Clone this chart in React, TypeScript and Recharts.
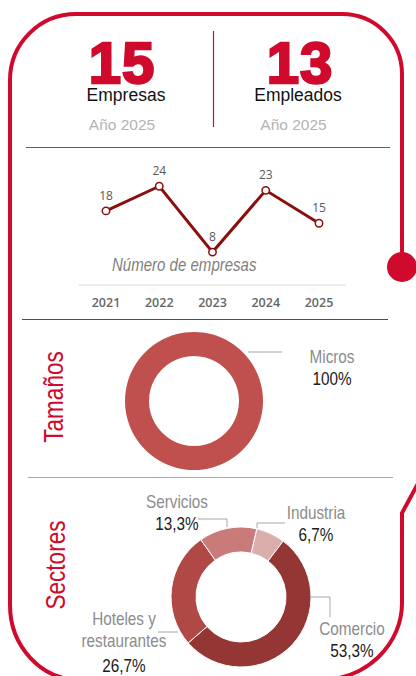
import { LineChart, Line, XAxis, YAxis, LabelList, PieChart, Pie, Cell } from 'recharts';

const years = ['2021', '2022', '2023', '2024', '2025'];
const empresas = [18, 24, 8, 23, 15];

const tamanoNames = ['Micros'];
const tamanoValues = [15];

const sectorNames = ['Industria', 'Comercio', 'Hoteles y\nrestaurantes', 'Servicios'];
const sectorValues = [1, 8, 4, 2];
const sectorColors = ['#dbaeae', '#943634', '#b04845', '#c97b79'];

const RED = '#cf0a2c';
const NARROW = 'Liberation Sans, Arial, sans-serif';

const lineData = years.map((y, i) => ({ year: y, value: empresas[i] }));
const tamanoData = tamanoNames.map((n, i) => ({ name: n, value: tamanoValues[i] }));
const sectorData = sectorNames.map((n, i) => ({ name: n, value: sectorValues[i] }));

// label placement relative to the donut centre (leader line + text rows)
const tamanoLabelLayout = [
  { line: [[54, -49], [88, -49]], x: 138, nameY: [-44], valueY: -22 },
];
const sectorLabelLayout = [
  { line: [[16, -69], [16, -74], [44, -74]], x: 75, nameY: [-84], valueY: -62 },
  { line: [[69, 0], [89, 0], [89, 20]], x: 111, nameY: [32], valueY: 54 },
  { line: [[-63, 35], [-83, 35]], x: -117, nameY: [22, 44], valueY: 69 },
  { line: [[-14, -70], [-14, -78], [-43, -78]], x: -64, nameY: [-95], valueY: -73 },
];

const fmtPct = (p: number) => (p >= 0.9995 ? '100%' : (p * 100).toFixed(1).replace('.', ',') + '%');

function NarrowText({ x, y, fill, children, size = 18 }: any) {
  return (
    <text
      transform={`translate(${x} ${y}) scale(0.85 1)`}
      textAnchor="middle"
      dominantBaseline="central"
      fill={fill}
      fontSize={size}
      fontFamily={NARROW}
    >
      {children}
    </text>
  );
}

function makeLabel(layout: any[]) {
  return (props: any) => {
    const { cx, cy, index, percent, name } = props;
    const l = layout[index];
    const pts = l.line.map((p: number[]) => `${cx + p[0]},${cy + p[1]}`).join(' ');
    const rows = String(name).split('\n');
    return (
      <g>
        <polyline points={pts} fill="none" stroke="#a6a6a6" strokeWidth={1} />
        {rows.map((r, k) => (
          <NarrowText key={k} x={cx + l.x} y={cy + l.nameY[k]} fill="#8c8c8c">
            {r}
          </NarrowText>
        ))}
        <NarrowText x={cx + l.x} y={cy + l.valueY} fill="#1a1a1a">
          {fmtPct(percent)}
        </NarrowText>
      </g>
    );
  };
}

// header block: big number, caption and year, centred on x
function Kpi({ x, value, caption, captionX, yearX }: any) {
  const base = { position: 'absolute' as const, width: 200, textAlign: 'center' as const, fontFamily: 'Liberation Sans, Arial, sans-serif', whiteSpace: 'nowrap' as const };
  return (
    <>
      <div style={{ ...base, left: x - 100, top: 42, height: 42, lineHeight: '42px', fontSize: 58, fontWeight: 700, color: RED, WebkitTextStroke: `2.5px ${RED}`, letterSpacing: 1 }}>
        {value}
      </div>
      <div style={{ ...base, left: captionX - 100, top: 86.5, height: 17, lineHeight: '17px', fontSize: 17.5, color: '#111' }}>
        {caption}
      </div>
      <div style={{ ...base, left: yearX - 100, top: 116.7, height: 16, lineHeight: '16px', fontSize: 15.5, color: '#b3b3b3' }}>
        Año 2025
      </div>
    </>
  );
}

function Frame() {
  return (
    <svg width={416} height={676} style={{ position: 'absolute', left: 0, top: 0 }}>
      <path
        d="M 402 256 L 402 74 A 60 60 0 0 0 342 14 L 76 14 A 66 66 0 0 0 10 80 L 10 605 A 70 75 0 0 0 80 680 L 320 680 A 82 77 0 0 0 402 603 L 402 513 L 422 476"
        fill="none"
        stroke={RED}
        strokeWidth={4}
      />
      <circle cx={402} cy={267} r={15} fill={RED} />

      <line x1={213.5} y1={31} x2={213.5} y2={127} stroke={RED} strokeWidth={1.2} />

      <line x1={26} y1={147.5} x2={390} y2={147.5} stroke="#d5263a" strokeWidth={1} />
      <line x1={22} y1={319.5} x2={388} y2={319.5} stroke="#c0162e" strokeWidth={1} />
      <line x1={28} y1={477.5} x2={393} y2={477.5} stroke="#9bbb59" strokeWidth={1.2} />

      <text
        transform="translate(112 271) scale(0.85 1)"
        fontSize={17.7}
        fontStyle="italic"
        fill="#7f7f7f"
        fontFamily={NARROW}
      >
        Número de empresas
      </text>

      <text
        transform="translate(63 397) rotate(-90) scale(0.82 1)"
        textAnchor="middle"
        fontSize={27.5}
        fill={RED}
        fontFamily={NARROW}
      >
        Tamaños
      </text>
      <text
        transform="translate(65 565) rotate(-90) scale(0.82 1)"
        textAnchor="middle"
        fontSize={27.5}
        fill={RED}
        fontFamily={NARROW}
      >
        Sectores
      </text>
    </svg>
  );
}

export default function App() {
  return (
    <div
      style={{
        position: 'absolute',
        left: 0,
        top: 0,
        width: 416,
        height: 676,
        background: '#fff',
        overflow: 'hidden',
      }}
    >
      <Frame />
      <Kpi x={122} value="15" caption="Empresas" captionX={126} yearX={122} />
      <Kpi x={300} value="13" caption="Empleados" captionX={298} yearX={293.5} />

      <div style={{ position: 'absolute', left: 0, top: 150 }}>
        <LineChart width={416} height={170} data={lineData} margin={{ top: 28, right: 70, bottom: 0, left: 79 }}>
          <XAxis
            dataKey="year"
            height={35}
            padding={{ left: 27, right: 27 }}
            axisLine={{ stroke: '#d9d9d9' }}
            tickLine={false}
            tickMargin={7}
            tick={{ fill: '#666', fontSize: 12.5, fontFamily: 'Open Sans', fontWeight: 600 }}
          />
          <YAxis hide domain={[0, 26]} />
          <Line
            type="linear"
            dataKey="value"
            stroke="#8b0e0e"
            strokeWidth={3}
            dot={{ r: 3.7, fill: '#fff', stroke: '#8b0e0e', strokeWidth: 1.5 }}
            isAnimationActive={false}
          >
            <LabelList
              dataKey="value"
              position="top"
              offset={11}
              fill="#595959"
              fontSize={12}
              fontFamily="Open Sans"
            />
          </Line>
        </LineChart>
      </div>

      <div style={{ position: 'absolute', left: 0, top: 322 }}>
        <PieChart width={416} height={155}>
          <Pie
            data={tamanoData}
            dataKey="value"
            nameKey="name"
            cx={189}
            cy={74}
            innerRadius={45}
            outerRadius={69}
            startAngle={90}
            endAngle={-270}
            stroke="none"
            labelLine={false}
            label={makeLabel(tamanoLabelLayout)}
            isAnimationActive={false}
          >
            <Cell fill="#c0504d" />
          </Pie>
        </PieChart>
      </div>

      <div style={{ position: 'absolute', left: 0, top: 480 }}>
        <PieChart width={416} height={196}>
          <Pie
            data={sectorData}
            dataKey="value"
            nameKey="name"
            cx={236}
            cy={112}
            innerRadius={45}
            outerRadius={70}
            startAngle={77}
            endAngle={-283}
            stroke="#fff"
            strokeWidth={1}
            labelLine={false}
            label={makeLabel(sectorLabelLayout)}
            isAnimationActive={false}
          >
            {sectorData.map((d, i) => (
              <Cell key={d.name} fill={sectorColors[i]} />
            ))}
          </Pie>
        </PieChart>
      </div>
    </div>
  );
}
